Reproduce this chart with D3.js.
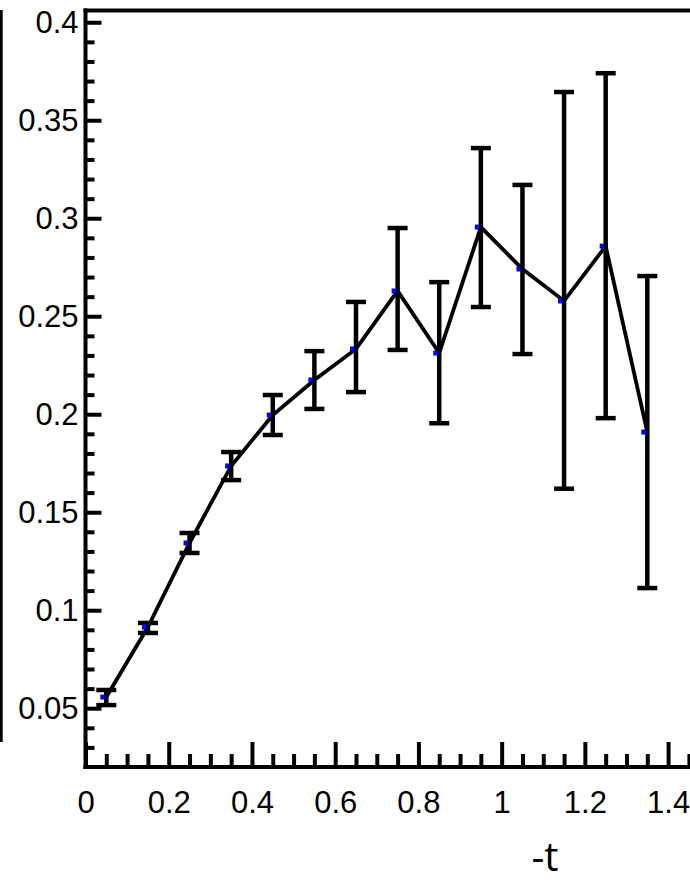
<!DOCTYPE html>
<html>
<head>
<meta charset="utf-8">
<script src="https://cdn.jsdelivr.net/npm/d3@7"></script>
<style>
  body { margin: 0; background: #fff; }
  svg { display: block; }
  .tick text { font-family: "Liberation Sans", Arial, sans-serif; font-size: 31px; fill: #000; }
</style>
</head>
<body>
<div id="chart"></div>
<script>
// data: -t bin centres, value, error bar low / high
const tVals  = [0.05, 0.15, 0.25, 0.35, 0.45, 0.55, 0.65, 0.75, 0.85, 0.95, 1.05, 1.15, 1.25, 1.35];
const yVals  = [0.0557, 0.0914, 0.1343, 0.1736, 0.1996, 0.2175, 0.2333, 0.2629, 0.2312, 0.2955, 0.2741, 0.2578, 0.2858, 0.1909];
const errLow = [0.0516, 0.0884, 0.1292, 0.1664, 0.1894, 0.2027, 0.2113, 0.2328, 0.1954, 0.2547, 0.2307, 0.1620, 0.1980, 0.1113];
const errHigh= [0.0593, 0.0935, 0.1394, 0.1807, 0.2098, 0.2322, 0.2573, 0.2950, 0.2674, 0.3358, 0.3170, 0.3644, 0.3740, 0.2705];

// tick labels
const xTicks = [0, 0.2, 0.4, 0.6, 0.8, 1, 1.2, 1.4];
const xTickLabels = ["0", "0.2", "0.4", "0.6", "0.8", "1", "1.2", "1.4"];
const xMinor = [0.05, 0.1, 0.15, 0.25, 0.3, 0.35, 0.45, 0.5, 0.55, 0.65, 0.7, 0.75, 0.85, 0.9, 0.95,
                1.05, 1.1, 1.15, 1.25, 1.3, 1.35, 1.45];
const yTicks = [0.05, 0.1, 0.15, 0.2, 0.25, 0.3, 0.35, 0.4];
const yTickLabels = ["0.05", "0.1", "0.15", "0.2", "0.25", "0.3", "0.35", "0.4"];
const yMinor = [0.03, 0.04, 0.06, 0.07, 0.08, 0.09, 0.11, 0.12, 0.13, 0.14, 0.16, 0.17, 0.18, 0.19,
                0.21, 0.22, 0.23, 0.24, 0.26, 0.27, 0.28, 0.29, 0.31, 0.32, 0.33, 0.34,
                0.36, 0.37, 0.38, 0.39];

const data = tVals.map((t, i) => ({ t: t, v: yVals[i], lo: errLow[i], hi: errHigh[i] }));

const w = 690;
const h = 885;

const xScale = d3.scaleLinear()
  .domain([0, 1.455])
  .range([85.5, 691]);

const yScale = d3.scaleLinear()
  .domain([0.02, 0.406])
  .range([767, 10.5]);

const svg = d3.select("#chart")
  .append("svg")
  .attr("width", w)
  .attr("height", h);

// stray frame line from the neighbouring panel
svg.append("line")
  .attr("x1", 1.2).attr("x2", 1.2)
  .attr("y1", 10).attr("y2", 742)
  .attr("stroke", "#000")
  .attr("stroke-width", 3);

// top frame
svg.append("line")
  .attr("x1", xScale(0) - 2).attr("x2", w)
  .attr("y1", yScale.range()[1]).attr("y2", yScale.range()[1])
  .attr("stroke", "#000")
  .attr("stroke-width", 4);

// minor ticks
const yMinorAxis = d3.axisLeft(yScale)
  .tickValues(yMinor)
  .tickFormat("")
  .tickSizeInner(-9)
  .tickSizeOuter(0);

const xMinorAxis = d3.axisBottom(xScale)
  .tickValues(xMinor)
  .tickFormat("")
  .tickSizeInner(-13)
  .tickSizeOuter(0);

svg.append("g")
  .attr("transform", `translate(${xScale(0)},0)`)
  .call(yMinorAxis)
  .call(g => g.selectAll("line").attr("stroke-width", 4))
  .call(g => g.select(".domain").remove());

svg.append("g")
  .attr("transform", `translate(0,${yScale(0.02)})`)
  .call(xMinorAxis)
  .call(g => g.selectAll("line").attr("stroke-width", 4))
  .call(g => g.select(".domain").remove());

// major axes
const yAxis = d3.axisLeft(yScale)
  .tickValues(yTicks)
  .tickFormat((d, i) => yTickLabels[i])
  .tickSizeInner(-16)
  .tickSizeOuter(0)
  .tickPadding(7);

const xAxis = d3.axisBottom(xScale)
  .tickValues(xTicks)
  .tickFormat((d, i) => xTickLabels[i])
  .tickSizeInner(-25)
  .tickSizeOuter(0)
  .tickPadding(24);

svg.append("g")
  .attr("transform", `translate(${xScale(0)},0)`)
  .call(yAxis)
  .call(g => g.selectAll("line").attr("stroke-width", 4))
  .call(g => g.select(".domain").attr("stroke-width", 4).attr("d", `M0,${yScale(0.02) + 2}V${yScale.range()[1] - 2}`));

svg.append("g")
  .attr("transform", `translate(0,${yScale(0.02)})`)
  .call(xAxis)
  .call(g => g.selectAll("line").attr("stroke-width", 4))
  .call(g => g.select(".domain").attr("stroke-width", 4).attr("d", `M${xScale(0) - 2},0H${w}`));

// connecting line
const line = d3.line()
  .x(d => xScale(d.t))
  .y(d => yScale(d.v));

svg.append("path")
  .datum(data)
  .attr("fill", "none")
  .attr("stroke", "#000")
  .attr("stroke-width", 3.8)
  .attr("stroke-linejoin", "miter")
  .attr("d", line);

// error bars
const capW = 10;
const bars = svg.append("g")
  .selectAll("g")
  .data(data)
  .enter()
  .append("g")
  .attr("stroke", "#000")
  .attr("stroke-width", 4.5);

bars.append("line")
  .attr("x1", d => xScale(d.t)).attr("x2", d => xScale(d.t))
  .attr("y1", d => yScale(d.lo)).attr("y2", d => yScale(d.hi));

bars.append("line")
  .attr("x1", d => xScale(d.t) - capW).attr("x2", d => xScale(d.t) + capW)
  .attr("y1", d => yScale(d.lo)).attr("y2", d => yScale(d.lo));

bars.append("line")
  .attr("x1", d => xScale(d.t) - capW).attr("x2", d => xScale(d.t) + capW)
  .attr("y1", d => yScale(d.hi)).attr("y2", d => yScale(d.hi));

// small blue markers, sitting just left of the bar
svg.append("g")
  .selectAll("rect")
  .data(data)
  .enter()
  .append("rect")
  .attr("x", d => xScale(d.t) - 6)
  .attr("y", d => yScale(d.v) - 2.5)
  .attr("width", 4)
  .attr("height", 5)
  .attr("fill", "#0000ff");

// axis title
svg.append("text")
  .attr("x", 545)
  .attr("y", 871)
  .attr("text-anchor", "middle")
  .attr("font-family", "'Open Sans', 'Noto Sans', sans-serif")
  .attr("font-size", 40)
  .attr("fill", "#000")
  .text("-t");
</script>
</body>
</html>
